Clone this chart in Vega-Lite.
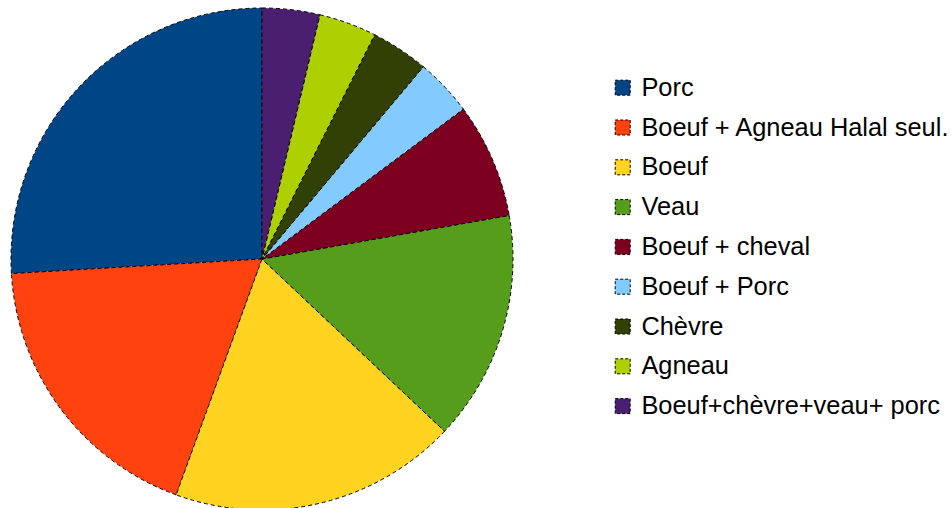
{
  "$schema": "https://vega.github.io/schema/vega-lite/v6.json",
  "width": 524,
  "height": 518,
  "autosize": "none",
  "padding": {"left": 0, "top": 0, "right": 428, "bottom": -10},
  "background": "white",
  "config": {"view": {"stroke": null}},
  "data": {
    "values": [
      {"cat": "Porc", "n": 7, "ord": 1},
      {"cat": "Boeuf + Agneau Halal seul.", "n": 5, "ord": 2},
      {"cat": "Boeuf", "n": 5, "ord": 3},
      {"cat": "Veau", "n": 4, "ord": 4},
      {"cat": "Boeuf + cheval", "n": 2, "ord": 5},
      {"cat": "Boeuf + Porc", "n": 1, "ord": 6},
      {"cat": "Chèvre", "n": 1, "ord": 7},
      {"cat": "Agneau", "n": 1, "ord": 8},
      {"cat": "Boeuf+chèvre+veau+ porc", "n": 1, "ord": 9}
    ]
  },
  "mark": {"type": "arc", "radius": 251, "stroke": "black", "strokeWidth": 1, "strokeDash": [4, 3]},
  "encoding": {
    "theta": {"field": "n", "type": "quantitative", "stack": true, "scale": {"range": [6.283185307, 0]}},
    "order": {"field": "ord", "type": "quantitative"},
    "color": {
      "field": "cat",
      "type": "nominal",
      "scale": {
        "domain": ["Porc", "Boeuf + Agneau Halal seul.", "Boeuf", "Veau", "Boeuf + cheval", "Boeuf + Porc", "Chèvre", "Agneau", "Boeuf+chèvre+veau+ porc"],
        "range": ["#004586", "#ff420e", "#ffd320", "#579d1c", "#7e0021", "#83caff", "#314004", "#aecf00", "#4b1f6f"]
      },
      "legend": {
        "orient": "none",
        "legendX": 610,
        "legendY": 75,
        "title": null,
        "padding": 0,
        "symbolType": "square",
        "symbolSize": 225,
        "symbolStrokeColor": "black",
        "symbolStrokeWidth": 1,
        "symbolDash": [3, 2],
        "symbolOpacity": 1,
        "labelFont": "Liberation Sans",
        "labelFontSize": 25.4,
        "labelColor": "black",
        "labelOffset": 6,
        "labelLimit": 400,
        "rowPadding": 12.8
      }
    }
  }
}
